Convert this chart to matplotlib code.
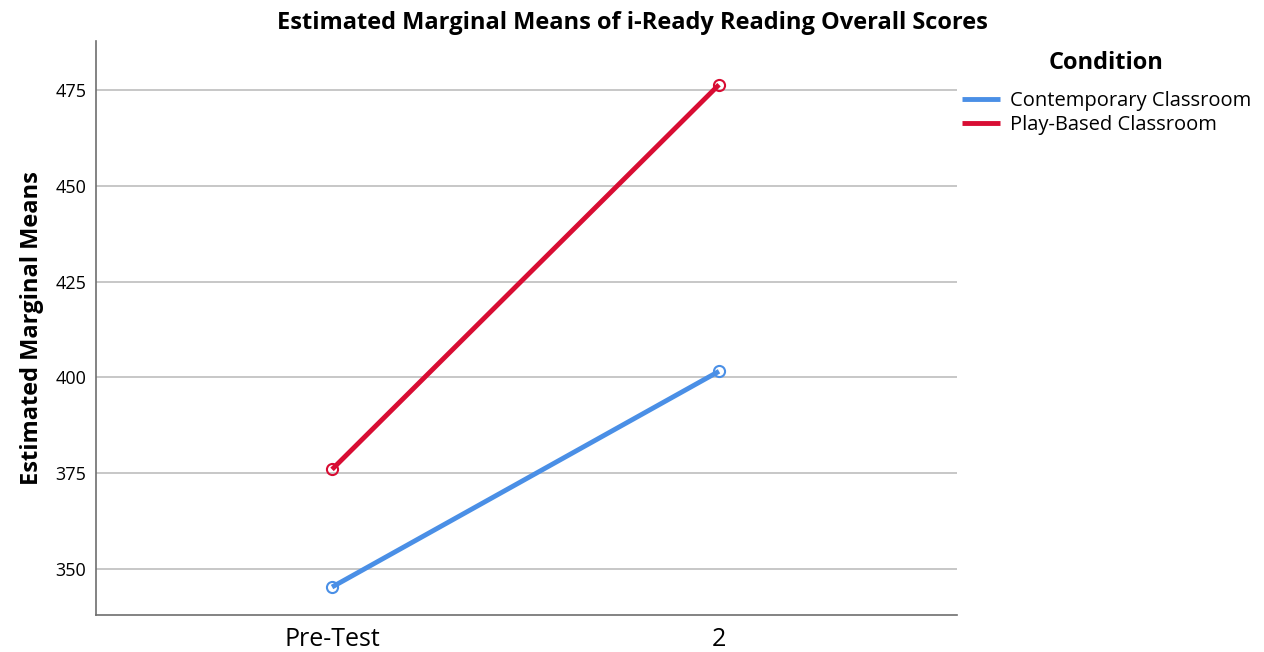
import numpy as np
import matplotlib.pyplot as plt

plt.rcParams['font.family'] = ['Open Sans', 'DejaVu Sans']

# time points and condition means
time_labels = ["Pre-Test", "2"]
conditions = ["Contemporary Classroom", "Play-Based Classroom"]
contemporary = [345.3, 401.6]
play_based = [376.0, 476.4]
colors = ["#4a8fe6", "#d80d33"]

fig = plt.figure(figsize=(12.64, 6.52), dpi=100)
ax = fig.add_axes([96/1264, 1 - 615/652, (957-96)/1264, (615-41)/652])

x = np.arange(len(time_labels))
for vals, lab, col in zip([contemporary, play_based], conditions, colors):
    ax.plot(x, vals, color=col, lw=3.5, label=lab, marker='o', markersize=8,
            markerfacecolor='none', markeredgecolor=col, markeredgewidth=1.5,
            solid_capstyle='butt')

ax.set_xlim(-0.61, 1.615)
ax.set_ylim(338.0, 487.8)
ax.set_yticks([350, 375, 400, 425, 450, 475])
ax.set_xticks(x)
ax.set_xticklabels(time_labels, fontsize=18)
ax.tick_params(axis='y', labelsize=13, length=0, pad=7)
ax.tick_params(axis='x', length=0, pad=9)
ax.yaxis.grid(True, color='#bdbdbd', lw=1.2)
ax.set_axisbelow(True)
for s in ['top', 'right']:
    ax.spines[s].set_visible(False)
for s in ['left', 'bottom']:
    ax.spines[s].set_color('#6e6e6e')
    ax.spines[s].set_linewidth(1.2)

ax.set_ylabel("Estimated Marginal Means", fontsize=17, fontweight='bold', labelpad=8)
fig.text(0.5, 1 - 23/652, "Estimated Marginal Means of i-Ready Reading Overall Scores",
         ha='center', va='center', fontsize=17, fontweight='bold')

# legend title drawn separately so the gap matches
fig.text(1106/1264, 1 - 63/652, "Condition", ha='center', va='center',
         fontsize=17, fontweight='bold')
leg = ax.legend(loc='upper left', bbox_to_anchor=(958/1264, 1 - 87/652),
                bbox_transform=fig.transFigure, frameon=False, fontsize=14.5,
                handlelength=1.9, handletextpad=0.5,
                labelspacing=0.2, borderaxespad=0, borderpad=0.2)
for h in leg.get_lines():
    h.set_marker('')

fig.savefig("out.png", dpi=100)
